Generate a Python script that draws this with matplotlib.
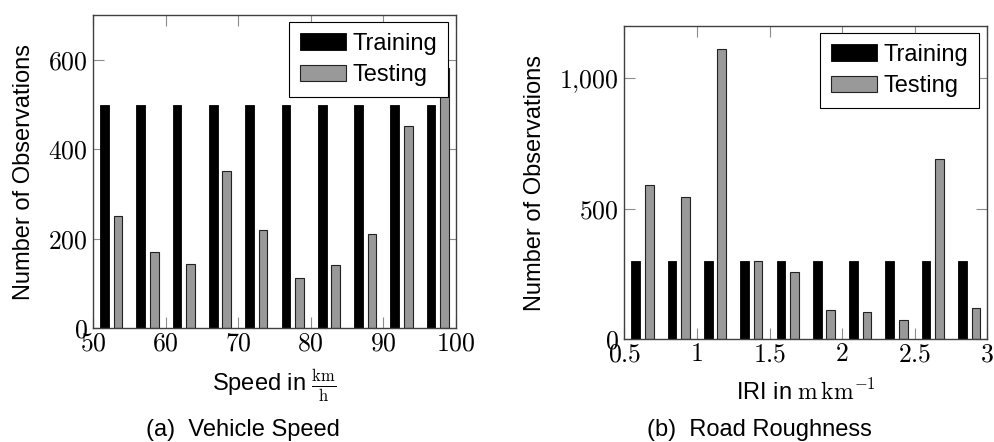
import matplotlib
matplotlib.use("Agg")
import matplotlib.pyplot as plt
import numpy as np
from matplotlib.ticker import FuncFormatter

plt.rcParams['font.family'] = ['Liberation Sans', 'DejaVu Sans']
plt.rcParams['mathtext.fontset'] = 'cm'

# Vehicle speed histogram (bins of 5 km/h)
speed_bin_left = [50, 55, 60, 65, 70, 75, 80, 85, 90, 95]
speed_training = [500, 500, 500, 500, 500, 500, 500, 500, 500, 500]
speed_testing = [251, 170, 143, 351, 219, 113, 142, 210, 451, 582]
speed_xticks = [50, 60, 70, 80, 90, 100]
speed_yticks = [0, 200, 400, 600]

# Road roughness histogram (bins of 0.25 m/km)
iri_bin_left = [0.5, 0.75, 1.0, 1.25, 1.5, 1.75, 2.0, 2.25, 2.5, 2.75]
iri_training = [298, 298, 298, 298, 298, 298, 298, 298, 298, 298]
iri_testing = [590, 544, 1111, 298, 257, 111, 104, 73, 691, 119]
iri_xticks = [0.5, 1, 1.5, 2, 2.5, 3]
iri_yticks = [0, 500, 1000]

TRAIN_COLOR = 'black'
TEST_COLOR = '#999999'
SPINE_COLOR = '#404040'
TICK_COLOR = '#8c8c8c'
LABEL_SIZE = 17
TICK_SIZE = 18.5

fig = plt.figure(figsize=(9.94, 4.42), dpi=100)
W, H = 994, 442
ax_a = fig.add_axes([93 / W, 1 - 328.3 / H, (456 - 93) / W, (328.3 - 15) / H])
ax_b = fig.add_axes([624.3 / W, 1 - 339.3 / H, (987.3 - 624.3) / W, (339.3 - 26) / H])


def num_fmt(v, pos):
    if float(v).is_integer():
        s = f"{int(v):,}".replace(",", "{,}")
    else:
        s = f"{v:g}"
    return f"${s}$"


def draw(ax, left, binw, train, test, xlim, ylim, xticks, yticks, xlabel,
         legend_anchor, ylabel_x, xlabel_y):
    left = np.asarray(left, dtype=float)
    centers = left + binw / 2
    bw = 0.24 * binw
    off = 0.185 * binw
    ax.bar(centers - off, train, width=bw, color=TRAIN_COLOR, edgecolor='black',
           linewidth=0.6, label='Training', zorder=2)
    ax.bar(centers + off, test, width=bw, color=TEST_COLOR, edgecolor='#222222',
           linewidth=0.8, label='Testing', zorder=2)
    ax.set_xlim(*xlim)
    ax.set_ylim(*ylim)
    ax.set_xticks(xticks)
    ax.set_yticks(yticks)
    ax.xaxis.set_major_formatter(FuncFormatter(num_fmt))
    ax.yaxis.set_major_formatter(FuncFormatter(num_fmt))
    ax.tick_params(direction='in', length=8, width=0.8, color=TICK_COLOR,
                   top=True, right=True, labelsize=TICK_SIZE, pad=4)
    ax.tick_params(axis='x', pad=2)
    for sp in ax.spines.values():
        sp.set_color(SPINE_COLOR)
        sp.set_linewidth(1.0)
    ax.set_ylabel('Number of Observations', fontsize=LABEL_SIZE, va='center')
    ax.yaxis.set_label_coords(ylabel_x, 0.5)
    ax.set_xlabel(xlabel, fontsize=LABEL_SIZE, va='center')
    ax.xaxis.set_label_coords(0.5, xlabel_y)
    leg = ax.legend(loc='upper right', bbox_to_anchor=legend_anchor, fontsize=LABEL_SIZE,
                    frameon=True, fancybox=False, framealpha=1.0,
                    handlelength=1.95, handleheight=0.7,
                    handletextpad=0.3, borderpad=0.45, labelspacing=0.4,
                    borderaxespad=0)
    leg.get_frame().set_edgecolor('black')
    leg.get_frame().set_linewidth(0.8)
    leg.set_zorder(5)


draw(ax_a, speed_bin_left, 5, speed_training, speed_testing, (50, 100), (0, 700),
     speed_xticks, speed_yticks, r'Speed in $\frac{\mathrm{km}}{\mathrm{h}}$',
     ((448.3 - 93) / (456 - 93), 1 - (22.3 - 15) / (328.3 - 15)),
     -0.19, -0.184)
draw(ax_b, iri_bin_left, 0.25, iri_training, iri_testing, (0.5, 3), (0, 1200),
     iri_xticks, iri_yticks, r'IRI in $\mathrm{m\,km^{-1}}$',
     ((979.3 - 624.3) / (987.3 - 624.3), 1 - (33.3 - 26) / (339.3 - 26)),
     -0.245, -0.168)

fig.text(243 / W, 1 - 430 / H, '(a)  Vehicle Speed', ha='center', va='center',
         fontsize=LABEL_SIZE)
fig.text(759 / W, 1 - 430 / H, '(b)  Road Roughness', ha='center', va='center',
         fontsize=LABEL_SIZE)

fig.savefig('out.png', dpi=100)
